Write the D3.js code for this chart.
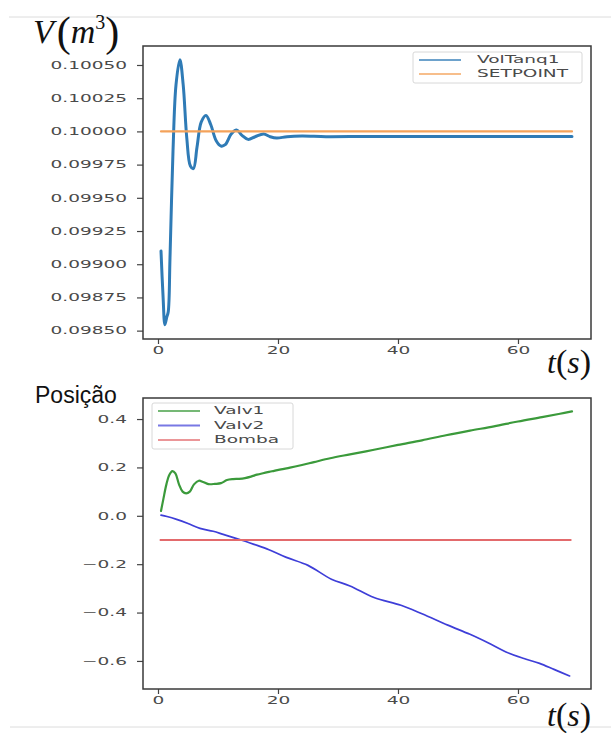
<!DOCTYPE html>
<html lang="en">
	<head>
		<meta charset="utf-8">
		<title>VolTanq1 / Valvulas</title>
		<script src="https://d3js.org/d3.v7.min.js"></script>
		<style type="text/css">
			body { margin: 0; background: #fff; }
			.tick text { font-family: "DejaVu Sans", sans-serif; font-size: 10px; fill: #4a4a4a; }
			.tick line { stroke: #444; stroke-width: 1.2; }
			.leg { font-family: "DejaVu Sans", sans-serif; font-size: 10px; fill: #4a4a4a; }
		</style>
	</head>
	<body>
		<script type="text/javascript">
			//Window size
			let w = 611;
			let h = 733;
			let sx = 1.85;			//horizontal stretch of the small texts

			//Top chart data: tank volume and setpoint
			let tVol = [0.5, 0.85, 1.15, 1.45, 1.7, 2.0, 2.5, 3.0, 3.65, 4.2, 4.8, 5.4, 5.9, 6.5, 7.2, 8.0, 8.8, 9.7, 10.5, 11.2, 12.2, 13.1, 14.0, 15.0, 16.2, 17.6, 18.7, 19.8, 21.5, 24, 28, 35, 45, 55, 69];
			let volTanq1 = [0.09910, 0.09875, 0.098545, 0.09860, 0.09864, 0.09905, 0.09985, 0.10035, 0.10054, 0.10035, 0.09995, 0.09974, 0.09972, 0.09988, 0.10007, 0.10012, 0.10005, 0.09993, 0.09989, 0.09990, 0.09998, 0.10001, 0.09997, 0.09994, 0.09996, 0.09998, 0.09996, 0.09995, 0.09996, 0.099965, 0.09996, 0.099962, 0.099962, 0.099962, 0.099962];
			let tSet = [0.5, 69];
			let setpoint = [0.1, 0.1];
			let yTicksTop = [0.0985, 0.09875, 0.099, 0.09925, 0.0995, 0.09975, 0.1, 0.10025, 0.1005];

			//Bottom chart data: valves and pump
			let tValv1 = [0.5, 0.9, 1.4, 1.9, 2.4, 2.9, 3.5, 4.1, 4.7, 5.3, 6.0, 6.8, 7.5, 8.4, 9.5, 10.5, 11.5, 12.5, 13.5, 14.5, 15.5, 16.5, 17.5, 19.0, 20.5, 22, 24, 26, 28.7, 32, 36, 40, 44, 48, 52, 56, 60, 64, 67, 69];
			let valv1 = [0.02, 0.07, 0.13, 0.17, 0.185, 0.175, 0.13, 0.10, 0.093, 0.10, 0.13, 0.145, 0.14, 0.131, 0.132, 0.135, 0.148, 0.152, 0.153, 0.156, 0.162, 0.17, 0.176, 0.184, 0.192, 0.199, 0.21, 0.222, 0.238, 0.254, 0.273, 0.293, 0.312, 0.333, 0.352, 0.37, 0.39, 0.408, 0.422, 0.432];
			let tValv2 = [0.5, 1.5, 3.1, 5, 7, 9.2, 11, 13.5, 16, 18.5, 21.4, 25, 28.9, 32, 36, 40.5, 44, 48.3, 52, 55, 58, 61, 63.6, 66, 68.6];
			let valv2 = [0.003, -0.003, -0.015, -0.032, -0.052, -0.064, -0.078, -0.097, -0.118, -0.14, -0.172, -0.205, -0.262, -0.29, -0.338, -0.37, -0.405, -0.452, -0.49, -0.525, -0.563, -0.59, -0.61, -0.635, -0.662];
			let tBomba = [0.4, 68.8];
			let bomba = [-0.1, -0.1];
			let yTicksBot = [-0.6, -0.4, -0.2, 0.0, 0.2, 0.4];
			let xTicks = [0, 20, 40, 60];

			//Create SVG element
			let svg = d3.select("body")
						.append("svg")
						.attr("width", w)
						.attr("height", h);

			//Light separator lines of the screenshot
			svg.append("line").attr("x1", 9).attr("x2", w).attr("y1", 17).attr("y2", 17)
				.attr("stroke", "#dcdcdc").attr("stroke-width", 1);
			svg.append("line").attr("x1", 10).attr("x2", w).attr("y1", 727).attr("y2", 727)
				.attr("stroke", "#dcdcdc").attr("stroke-width", 1);

			//One panel: frame, axes, lines and legend
			function panel(box, yDomain, yTicks, yFmt, series, legBox) {
				let xScale = d3.scaleLinear()
								.domain([-2.5, 72.17])
								.range([box.x0, box.x1]);
				let yScale = d3.scaleLinear()
								.domain(yDomain)
								.range([box.y1, box.y0]);

				let xAxis = d3.axisBottom(xScale).tickValues(xTicks).tickSize(5).tickFormat(d3.format("d"));
				let yAxis = d3.axisLeft(yScale).tickValues(yTicks).tickSize(6).tickFormat(d3.format(yFmt));

				let gx = svg.append("g")
					.attr("class", "x axis")
					.attr("transform", "translate(0," + box.y1 + ")")
					.call(xAxis);
				gx.select(".domain").remove();
				gx.selectAll(".tick text")
					.attr("y", 8)
					.attr("transform", "scale(" + sx + ",1)")
					.attr("x", 0);
				gx.selectAll(".tick").each(function() {
					let t = d3.select(this).attr("transform");
					let px = +t.match(/translate\(([-\d.]+)/)[1];
					d3.select(this).attr("transform", null);
					d3.select(this).select("line").attr("x1", px).attr("x2", px);
					d3.select(this).select("text").attr("x", px / sx);
				});

				let gy = svg.append("g")
					.attr("class", "y axis")
					.attr("transform", "translate(" + box.x0 + ",0)")
					.call(yAxis);
				gy.select(".domain").remove();
				gy.selectAll(".tick text")
					.attr("transform", "scale(" + sx + ",1)")
					.attr("x", -16 / sx);

				//Lines
				series.forEach(function(s) {
					let pts = d3.zip(s.t, s.v);
					svg.append("path")
						.datum(pts)
						.attr("fill", "none")
						.attr("stroke", s.color)
						.attr("stroke-width", s.width)
						.attr("stroke-linejoin", "round")
						.attr("stroke-linecap", "round")
						.attr("d", d3.line()
							.curve(s.smooth ? d3.curveCatmullRom.alpha(0.5) : d3.curveLinear)
							.x(function(d) { return xScale(d[0]); })
							.y(function(d) { return yScale(d[1]); }));
				});

				//Frame
				svg.append("rect")
					.attr("x", box.x0)
					.attr("y", box.y0)
					.attr("width", box.x1 - box.x0)
					.attr("height", box.y1 - box.y0)
					.attr("fill", "none")
					.attr("stroke", "#3a3a3a")
					.attr("stroke-width", 1.5);

				//Legend
				let leg = svg.append("g").attr("class", "legend");
				leg.append("rect")
					.attr("x", legBox.x)
					.attr("y", legBox.y)
					.attr("width", legBox.w)
					.attr("height", legBox.h)
					.attr("rx", 2)
					.attr("fill", "#fff")
					.attr("stroke", "#d8d8d8")
					.attr("stroke-width", 1);
				series.forEach(function(s, i) {
					let ly = legBox.y + 8 + i * legBox.step;
					leg.append("line")
						.attr("x1", legBox.x + 6).attr("x2", legBox.x + 48)
						.attr("y1", ly).attr("y2", ly)
						.attr("stroke", s.color).attr("stroke-opacity", 0.7)
						.attr("stroke-width", 2);
					leg.append("text")
						.attr("class", "leg")
						.attr("transform", "scale(" + sx + ",1)")
						.attr("x", (legBox.x + legBox.tx) / sx)
						.attr("y", ly + 3.5)
						.text(s.name);
				});
			}

			//Top panel
			panel({x0: 143, x1: 591, y0: 46, y1: 339},
				[0.098437, 0.100643], yTicksTop, ".5f",
				[
					{name: "VolTanq1", t: tVol, v: volTanq1, color: "#2f7bb6", width: 3, smooth: true},
					{name: "SETPOINT", t: tSet, v: setpoint, color: "#f4a25a", width: 2.2, smooth: false}
				],
				{x: 413, y: 52, w: 169, h: 31, step: 14, tx: 64});

			//Bottom panel
			panel({x0: 143, x1: 591, y0: 398, y1: 689},
				[-0.716, 0.487], yTicksBot, ".1f",
				[
					{name: "Valv1", t: tValv1, v: valv1, color: "#3b9a3b", width: 2.2, smooth: true},
					{name: "Valv2", t: tValv2, v: valv2, color: "#3e3ed8", width: 1.7, smooth: true},
					{name: "Bomba", t: tBomba, v: bomba, color: "#e36a6c", width: 1.8, smooth: false}
				],
				{x: 152, y: 403, w: 141, h: 46, step: 14.5, tx: 62});

			//Axis titles
			let vLab = svg.append("text")
				.attr("x", 33)
				.attr("y", 43)
				.attr("font-family", "'Liberation Serif', 'DejaVu Serif', serif")
				.attr("fill", "#111");
			vLab.append("tspan").attr("font-size", 34).attr("font-style", "italic").text("V");
			vLab.append("tspan").attr("font-size", 42).attr("dx", 3).attr("dy", 3).text("(");
			vLab.append("tspan").attr("font-size", 34).attr("font-style", "italic").attr("dy", -3).text("m");
			vLab.append("tspan").attr("font-size", 20).attr("dy", -14).text("3");
			vLab.append("tspan").attr("font-size", 42).attr("dy", 17).text(")");

			[373, 726].forEach(function(by) {
				let tLab = svg.append("text")
					.attr("x", 591)
					.attr("y", by)
					.attr("text-anchor", "end")
					.attr("font-family", "'Liberation Serif', 'DejaVu Serif', serif")
					.attr("fill", "#111");
				tLab.append("tspan").attr("font-size", 32).attr("font-style", "italic").text("t");
				tLab.append("tspan").attr("font-size", 34).text("(");
				tLab.append("tspan").attr("font-size", 32).attr("font-style", "italic").text("s");
				tLab.append("tspan").attr("font-size", 34).text(")");
			});

			svg.append("text")
				.attr("x", 35)
				.attr("y", 403)
				.attr("font-family", "'Liberation Sans', Arial, sans-serif")
				.attr("font-size", 23)
				.attr("fill", "#111")
				.text("Posição");
		</script>
	</body>
</html>
